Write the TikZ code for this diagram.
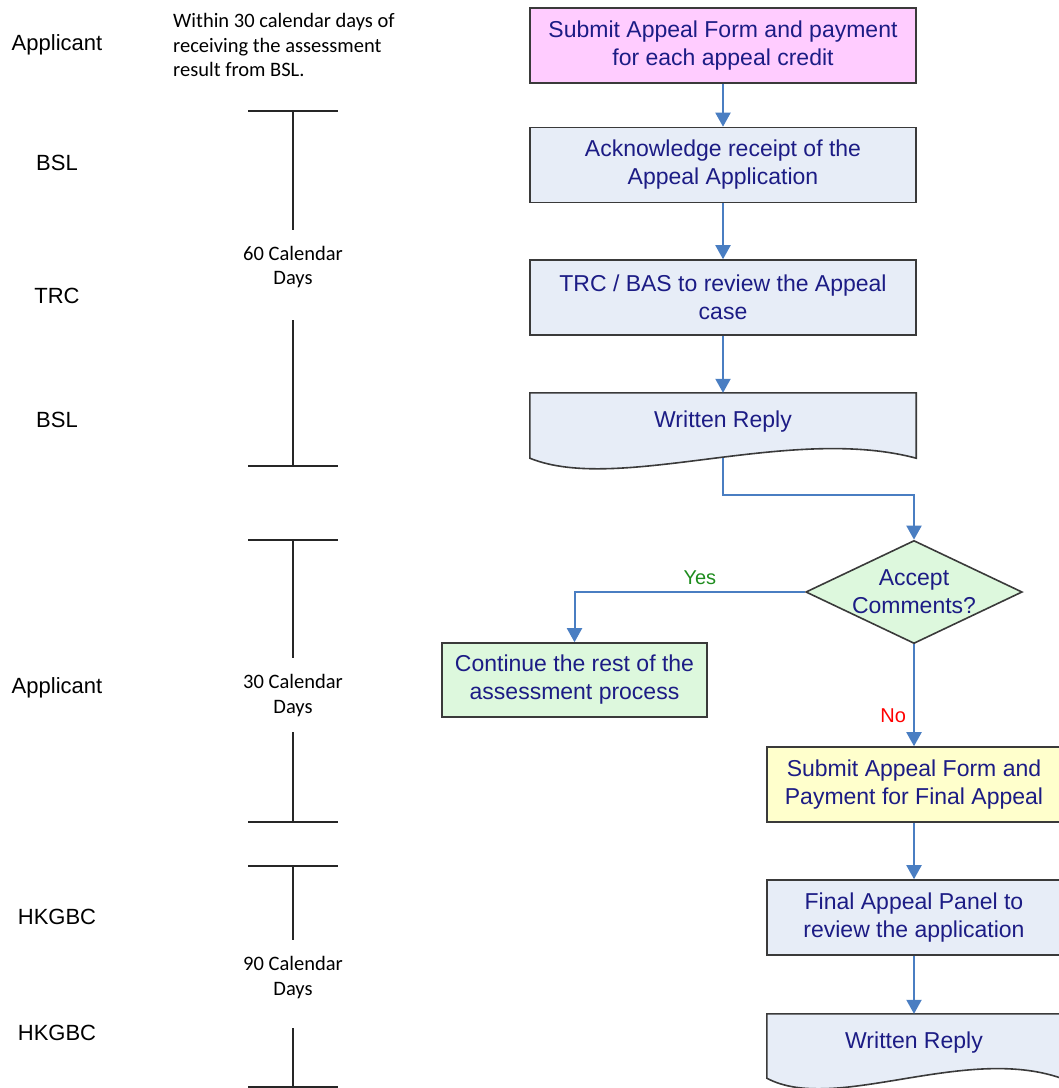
\documentclass[tikz,border=0pt]{standalone}
\usepackage{fontspec}
\setmainfont{Liberation Sans}
\newfontfamily\calfont{Carlito}
\usetikzlibrary{arrows.meta,shapes.geometric,calc,backgrounds}

\definecolor{navytext}{HTML}{1C1C85}
\definecolor{flowblue}{HTML}{4A7EC2}
\definecolor{boxedge}{HTML}{3A3A3A}
\definecolor{pinkfill}{HTML}{FFCCFF}
\definecolor{bluefill}{HTML}{E7EDF7}
\definecolor{greenfill}{HTML}{DDF8DD}
\definecolor{yellowfill}{HTML}{FFFFCC}
\definecolor{yesgreen}{HTML}{1E8C1E}

\begin{document}
\begin{tikzpicture}[x=1pt,y=-1pt,>={Triangle[width=15pt,length=14pt]},every node/.style={inner sep=0pt}]
	\tikzstyle{procbox}=[rectangle,draw=boxedge,line width=1.6pt,fill=bluefill,text=navytext,font=\fontsize{23}{28}\selectfont,align=center,minimum width=386pt,minimum height=75pt]
	\tikzstyle{docbox}=[rectangle,text=navytext,font=\fontsize{23}{28}\selectfont,text height=17pt,text depth=13pt,minimum width=386pt,minimum height=65pt]
	\tikzstyle{decision}=[diamond,aspect=2.1,draw=boxedge,line width=1.6pt,fill=greenfill,text=navytext,font=\fontsize{23}{28}\selectfont,align=center]
	\tikzstyle{flow}=[->,draw=flowblue,line width=2pt]
	\tikzstyle{actor}=[font=\fontsize{22}{26}\selectfont]
	\tikzstyle{days}=[font=\calfont\fontsize{20.5}{24.5}\selectfont,align=center]
	\tikzstyle{tline}=[line width=2pt,draw=black!85]

	\useasboundingbox (0,0) rectangle (1059,1088);

	% who does what
	\foreach \y/\who [count=\i] in {45/Applicant,163/BSL,296/TRC,420/BSL,688/Applicant,917/HKGBC,1033/HKGBC}
		\node[actor] (actor\i) at (57,\y) {\who};
	\node[days,align=left,anchor=west] (note) at (173,45) {Within 30 calendar days of\\receiving the assessment\\result from BSL.};

	% time bars
	\foreach \top/\a/\b/\bot in {111/230/320/466,540/658/732/822,866/940/1028/1087}
		\draw[tline] (248,\top) -- (338,\top) (293,\top) -- (293,\a) (293,\b) -- (293,\bot) (248,\bot) -- (338,\bot);
	\node[days] (d60) at (293,267) {60 Calendar\\Days};
	\node[days] (d30) at (293,695.5) {30 Calendar\\Days};
	\node[days] (d90) at (293,977.5) {90 Calendar\\Days};

	% flow
	\node[procbox,fill=pinkfill] (sub) at (723,45.5) {Submit Appeal Form and payment\\for each appeal credit};
	\node[procbox] (ack) [below of=sub,node distance=119.5pt] {Acknowledge receipt of the\\Appeal Application};
	\node[procbox] (rev) [below of=ack,node distance=132.5pt] {TRC / BAS to review the Appeal\\case};
	\node[docbox] (rep) [below of=rev,node distance=128pt] {Written Reply};
	\node[decision] (acc) at (914,592) {Accept\\Comments?};
	\node[procbox,fill=greenfill,minimum width=265pt,minimum height=74pt] (cont) at (574.5,680) {Continue the rest of the\\assessment process};
	\node[procbox,fill=yellowfill,minimum width=294pt] (fin) [below of=acc,node distance=192.5pt] {Submit Appeal Form and\\Payment for Final Appeal};
	\node[procbox,minimum width=294pt] (pan) [below of=fin,node distance=133pt] {Final Appeal Panel to\\review the application};
	\node[docbox,minimum width=294pt,minimum height=64pt] (rep2) [below of=pan,node distance=128.5pt] {Written Reply};

	\begin{scope}[on background layer]
		\foreach \d in {rep,rep2}
			\filldraw[fill=bluefill,draw=boxedge,line width=1.6pt] (\d.north west) -- (\d.north east) -- (\d.south east)
				.. controls ($(\d.south west)!0.67!(\d.south east)+(0,34pt)$) and ($(\d.south west)!0.23!(\d.south east)+(0,-36pt)$) .. (\d.south west) -- cycle;
	\end{scope}

	\draw[flow] (sub) -- (ack);
	\draw[flow] (ack) -- (rev);
	\draw[flow] (rev) -- (rep);
	\draw[flow] (rep.south) -- ++(0,-37pt) -| (acc.north);
	\draw[flow] (acc.west) -| (cont.north) node[pos=0.228,above=6pt,text=yesgreen,font=\fontsize{20}{24}\selectfont] {Yes};
	\draw[flow] (acc.south) -- (fin.north) node[pos=0.7,left=7pt,text=red,font=\fontsize{20}{24}\selectfont] {No};
	\draw[flow] (fin) -- (pan);
	\draw[flow] (pan) -- (rep2);
\end{tikzpicture}
\end{document}
